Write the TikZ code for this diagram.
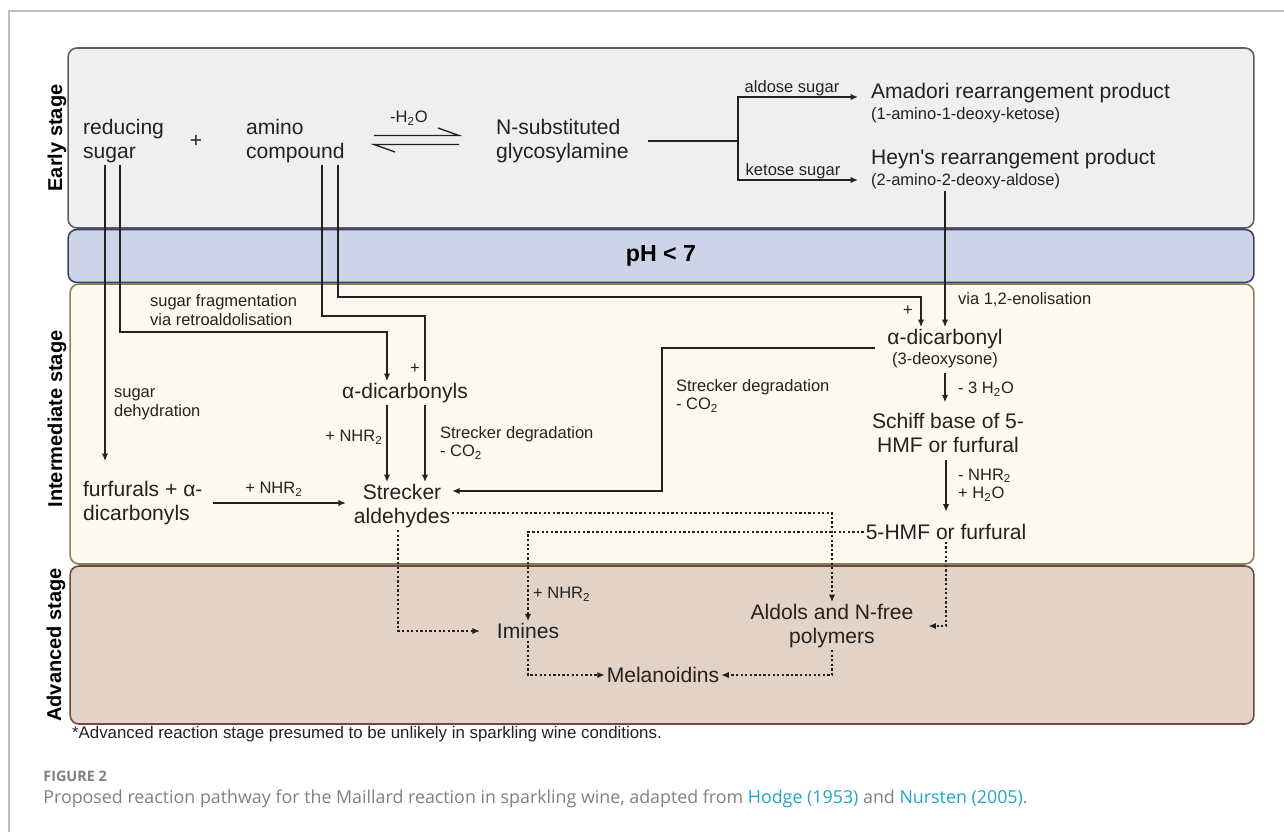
\documentclass[tikz,border=0pt]{standalone}
\usepackage{fontspec}
\setmainfont{Liberation Sans}
\newfontfamily\capfont{Open Sans}
\usepackage{xcolor}
\usetikzlibrary{arrows.meta,calc}
\definecolor{ink}{HTML}{222222}
\definecolor{earlyfill}{HTML}{EFEFEF}
\definecolor{earlyline}{HTML}{5C5C5C}
\definecolor{phfill}{HTML}{CED4E8}
\definecolor{phline}{HTML}{34446E}
\definecolor{interfill}{HTML}{FCFAF0}
\definecolor{interline}{HTML}{8C7E58}
\definecolor{advfill}{HTML}{E3D3C6}
\definecolor{advline}{HTML}{6B4B3C}
\definecolor{capgray}{HTML}{808080}
\definecolor{capblue}{HTML}{1FA6C9}
\definecolor{framegray}{HTML}{BDBDBD}
\tikzset{
  stagebox/.style={
    draw,rounded corners=5pt,line width=0.9pt,inner sep=0pt,minimum width=23.72cm,
  },
}
\tikzset{
  stagename/.style={
    rotate=90,font=\bfseries\fontsize{11.4}{13}\selectfont,text=black
  },
}
\begin{document}
\begin{tikzpicture}[x=0.02cm,y=-0.02cm,>={Latex[length=4.2pt,width=3.6pt]}]
		\tikzstyle{chem}=[font=\fontsize{12}{13.7}\selectfont,text=ink,inner sep=1pt]
		\tikzstyle{note}=[font=\fontsize{9.4}{10.6}\selectfont,text=ink,inner sep=1pt,align=left]
		\tikzstyle{line}=[draw=ink,line width=0.75pt]
		\tikzstyle{rx}=[->,draw=ink,line width=0.75pt]
		\tikzstyle{dotrx}=[->,draw=ink,line width=0.75pt,dash pattern=on 1.3pt off 1.3pt]
		\useasboundingbox (0,0) rectangle (1284,832);
		\draw[framegray,line width=0.6pt] (1284,11) -- (9,11) -- (9,832);

		\node[stagebox,draw=earlyline,fill=earlyfill,minimum height=3.6cm] (early) at (661,138) {};
		\node[stagebox,draw=phline,fill=phfill,minimum height=1.06cm,font=\bfseries\fontsize{13.2}{15}\selectfont] (ph) at (661,256) {pH < 7};
		\node[stagebox,draw=interline,fill=interfill,minimum width=23.68cm,minimum height=5.6cm] (inter) at (662,424) {};
		\node[stagebox,draw=advline,fill=advfill,minimum width=23.68cm,minimum height=3.16cm] (adv) at (662,645) {};
		\node[stagename] (earlylbl) at (57,138) {Early stage};
		\node[stagename] (interlbl) at (57,419) {Intermediate stage};
		\node[stagename] (advlbl) at (56,645) {Advanced stage};

		\node[chem,align=left,anchor=west] (sugar) at (81,141) {reducing\\sugar};
		\node[chem] (plus) at (196,141) {+};
		\node[chem,align=left,anchor=west] (amino) at (244,141) {amino\\compound};
		\node[note] (water) at (409,118) {-H\textsubscript{2}O};
		\coordinate (eqw) at (374,140);
		\coordinate (eqe) at (459,140);
		\draw[line] (eqw) ++(0,-4.5) -- ++(85,0) -- ++(-21,-7.5);
		\draw[line] (eqe) ++(0,4.5) -- ++(-85,0) -- ++(21,7.5);
		\node[chem,align=left,anchor=west] (glyco) at (494,141) {N-substituted\\glycosylamine};
		\node[chem,anchor=west] (amadori) at (869,93) {Amadori rearrangement product};
		\node[note,anchor=west] (amadorisub) at (869,115) {(1-amino-1-deoxy-ketose)};
		\node[chem,anchor=west] (heyn) at (869,159) {Heyn\textquotesingle s rearrangement product};
		\node[note,anchor=west] (heynsub) at (869,181) {(2-amino-2-deoxy-aldose)};
		\node[note] (aldose) at (792,88) {aldose sugar};
		\node[note] (ketose) at (793,171) {ketose sugar};
		\coordinate (fork) at (738,141);
		\draw[line] ([xshift=0.34cm]glyco.east) -- (fork);
		\draw[rx] (fork) |- ($(amadori.west)+(-11,4)$);
		\draw[rx] (fork) |- ($(heynsub.west)+(-11,-1)$);

		\node[note,anchor=west] (frag) at (148,310) {sugar fragmentation\\via retroaldolisation};
		\node[note,anchor=west] (dehyd) at (112,404) {sugar\\dehydration};
		\node[chem] (dicarbs) at (405,393) {α-dicarbonyls};
		\node[note] (plusa) at (415,369) {+};
		\node[chem,align=center] (strecker) at (402,506) {Strecker\\aldehydes};
		\node[chem,align=left,anchor=west] (furf) at (81,503) {furfurals + α-\\dicarbonyls};
		\node[note] (nhra) at (354,437) {+ NHR\textsubscript{2}};
		\node[note,anchor=west] (sdega) at (438,443) {Strecker degradation\\- CO\textsubscript{2}};
		\node[note] (nhrb) at (274,489) {+ NHR\textsubscript{2}};

		\node[chem] (dicarb) at (945,339) {α-dicarbonyl};
		\node[note] (deoxy) at (945,360) {(3-deoxysone)};
		\node[note] (plusb) at (908,311) {+};
		\node[note,anchor=west] (enol) at (956,300) {via 1,2-enolisation};
		\node[note,anchor=west] (sdegb) at (674,396) {Strecker degradation\\- CO\textsubscript{2}};
		\node[chem,align=center] (schiff) at (948,433) {Schiff base of 5-\\HMF or furfural};
		\node[note,anchor=west] (h2oa) at (956,389) {- 3 H\textsubscript{2}O};
		\node[chem] (hmf) at (946,532) {5-HMF or furfural};
		\node[note,anchor=west] (nhrc) at (956,485) {- NHR\textsubscript{2}\\+ H\textsubscript{2}O};

		\node[chem] (imines) at (528,631) {Imines};
		\node[chem,align=center] (aldols) at (832,626) {Aldols and N-free\\polymers};
		\node[chem] (melan) at (663,675) {Melanoidins};
		\node[note,anchor=west] (nhrd) at (531,594) {+ NHR\textsubscript{2}};

		\node[note,anchor=west,font=\fontsize{9.6}{11}\selectfont] (foot) at (70,734) {*Advanced reaction stage presumed to be unlikely in sparkling wine conditions.};
		\node[anchor=west,inner sep=0pt,font=\capfont\bfseries\fontsize{8.2}{10}\selectfont,text=capgray] (fig) at (43,776) {FIGURE 2};
		\node[anchor=west,inner sep=0pt,font=\capfont\fontsize{10.15}{12}\selectfont,text=capgray] (caption) at (43,799) {Proposed reaction pathway for the Maillard reaction in sparkling wine, adapted from \textcolor{capblue}{Hodge (1953)} and \textcolor{capblue}{Nursten (2005)}.};

		\draw[rx,shorten >=0.36cm] (sugar.south -| 105,0) -- (105,0 |- furf.north);
		\draw[rx] (sugar.south -| 120,0) |- (387,332) -- (387,0 |- dicarbs.north);
		\draw[line] (amino.south -| 322,0) |- (425,316) -- (425,0 |- dicarbs.north);
		\draw[rx] (amino.south -| 338,0) |- (921,297) -- (921,0 |- dicarb.north);
		\draw[rx] (heynsub.south -| dicarb.north) -- (dicarb.north);
		\draw[rx] (387,0 |- dicarbs.south) -- (387,0 |- strecker.north);
		\draw[rx] (425,0 |- dicarbs.south) -- (425,0 |- strecker.north);
		\draw[rx,shorten <=0.16cm,shorten >=0.12cm] (furf.east) -- (furf.east -| strecker.west);
		\draw[rx] ($(dicarb.west)+(-10,9)$) -| (662,491) -- (strecker.east |- 0,491);
		\draw[rx,shorten <=2pt,shorten >=5pt] (deoxy.south) -- (deoxy.south |- schiff.north);
		\draw[rx,shorten <=3pt,shorten >=6pt] (schiff.south -| hmf.north) -- (hmf.north);

		\draw[dotrx] (strecker.east |- 0,513) -| (aldols.north);
		\draw[dotrx] (hmf.west) -| (imines.north);
		\draw[dotrx,shorten >=0.26cm] (hmf.south) |- (aldols.east);
		\draw[dotrx,shorten >=0.3cm] (strecker.south -| 398,0) |- (imines.west);
		\draw[dotrx] (imines.south) |- (melan.west);
		\draw[dotrx] (aldols.south) |- (melan.east);

	\end{tikzpicture}
\end{document}
